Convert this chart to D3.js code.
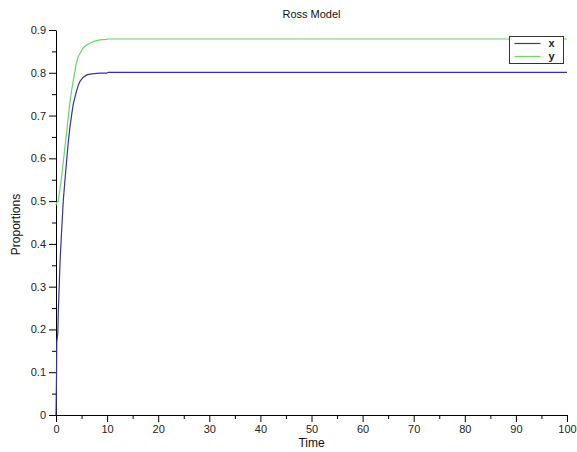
<!doctype html>
<html lang="en">
  <head>
    <meta charset="utf-8">
    <title>Ross Model</title>
    <script src="https://d3js.org/d3.v7.min.js"></script>
    <style>
      body { margin: 0; background: #fff; }
      svg { font-family: "Liberation Sans", Arial, sans-serif; }
      .axis text { font-size: 11px; fill: #222; }
      .axis path, .axis line { stroke: #000; }
    </style>
  </head>
  <body>
    <div id="chart"></div>
    <script>

      // values
      const time    = [0, 0.1, 0.15, 0.35, 0.45, 0.8, 1.1, 1.43, 1.76, 2.09, 2.4, 2.74, 3.1, 3.4, 3.9, 4.36, 4.7, 5.3, 6.0, 6.65, 7.5, 8.6, 9.9, 10.2, 20, 40, 60, 80, 100];
      const xValues = [0, 0.09, 0.17, 0.19, 0.24, 0.36, 0.43, 0.502, 0.55, 0.596, 0.637, 0.674, 0.705, 0.728, 0.752, 0.771, 0.78, 0.789, 0.795, 0.797, 0.798, 0.799, 0.799, 0.801, 0.801, 0.801, 0.801, 0.801, 0.801];
      const yValues = [0.49, 0.495, 0.497, 0.499, 0.5, 0.53, 0.557, 0.592, 0.627, 0.662, 0.697, 0.732, 0.762, 0.783, 0.818, 0.838, 0.845, 0.858, 0.865, 0.869, 0.874, 0.877, 0.878, 0.879, 0.879, 0.879, 0.879, 0.879, 0.879];
      const seriesNames = ["x", "y"];
      const seriesColors = ["#34349c", "#66d866"];
      const xTicks = d3.range(0, 101, 10);
      const yTicks = d3.range(0, 0.91, 0.1);

      const W = 577, H = 452;
      const margin = {top: 30, right: 10, bottom: 37, left: 56},
          width = W - margin.left - margin.right,
          height = H - margin.top - margin.bottom;

      const svg = d3.select("#chart")
        .append("svg")
          .attr("width", W)
          .attr("height", H);

      const g = svg.append("g")
          .attr("transform", `translate(${margin.left},${margin.top})`);

      const x = d3.scaleLinear().domain([0, 100]).range([0, width]);
      const y = d3.scaleLinear().domain([0, 0.9]).range([height, 0]);

      // minor ticks
      g.append("g")
        .attr("class", "axis")
        .attr("transform", `translate(0,${height})`)
        .call(d3.axisBottom(x).tickValues(d3.range(5, 100, 10)).tickSize(4).tickFormat(""))
        .select(".domain").remove();
      g.append("g")
        .attr("class", "axis")
        .call(d3.axisLeft(y).tickValues(d3.range(0.05, 0.9, 0.1)).tickSize(4).tickFormat(""))
        .select(".domain").remove();

      // X axis
      g.append("g")
        .attr("class", "axis")
        .attr("transform", `translate(0,${height})`)
        .call(d3.axisBottom(x).tickValues(xTicks).tickSize(7).tickSizeOuter(0).tickPadding(3).tickFormat(d3.format("d")));

      // Y axis
      g.append("g")
        .attr("class", "axis")
        .call(d3.axisLeft(y).tickValues(yTicks).tickSize(7).tickSizeOuter(0).tickPadding(3).tickFormat(d => d === 0 ? "0" : d3.format(".1f")(d)));

      // lines
      const series = [xValues, yValues];
      const line = d3.line()
        .x((d, i) => x(time[i]))
        .y(d => y(d));

      series.forEach((vals, k) => {
        g.append("path")
          .datum(vals)
          .attr("fill", "none")
          .attr("stroke", seriesColors[k])
          .attr("stroke-width", 1.2)
          .attr("d", line);
      });

      // title and labels
      svg.append("text")
        .attr("x", margin.left + width / 2)
        .attr("y", 18)
        .attr("text-anchor", "middle")
        .attr("font-size", "11px")
        .attr("fill", "#111")
        .text("Ross Model");

      svg.append("text")
        .attr("x", margin.left + width / 2)
        .attr("y", 447)
        .attr("text-anchor", "middle")
        .attr("font-size", "12px")
        .attr("fill", "#111")
        .text("Time");

      svg.append("text")
        .attr("transform", `translate(20,${margin.top + height / 2 + 2}) rotate(-90)`)
        .attr("text-anchor", "middle")
        .attr("font-size", "12px")
        .attr("fill", "#111")
        .text("Proportions");

      // legend
      const legend = svg.append("g")
        .attr("transform", "translate(509.5,36.5)");
      legend.append("rect")
        .attr("width", 54)
        .attr("height", 27)
        .attr("fill", "#fff")
        .attr("stroke", "#333");
      seriesNames.forEach((name, k) => {
        legend.append("line")
          .attr("x1", 5).attr("x2", 31)
          .attr("y1", 7 + k * 13).attr("y2", 7 + k * 13)
          .attr("stroke", seriesColors[k])
          .attr("stroke-width", 1.2);
        legend.append("text")
          .attr("x", 42)
          .attr("y", 10.5 + k * 13)
          .attr("text-anchor", "middle")
          .attr("font-size", "11px")
          .attr("font-weight", "bold")
          .attr("fill", "#222")
          .text(name);
      });

    </script>
  </body>
</html>
